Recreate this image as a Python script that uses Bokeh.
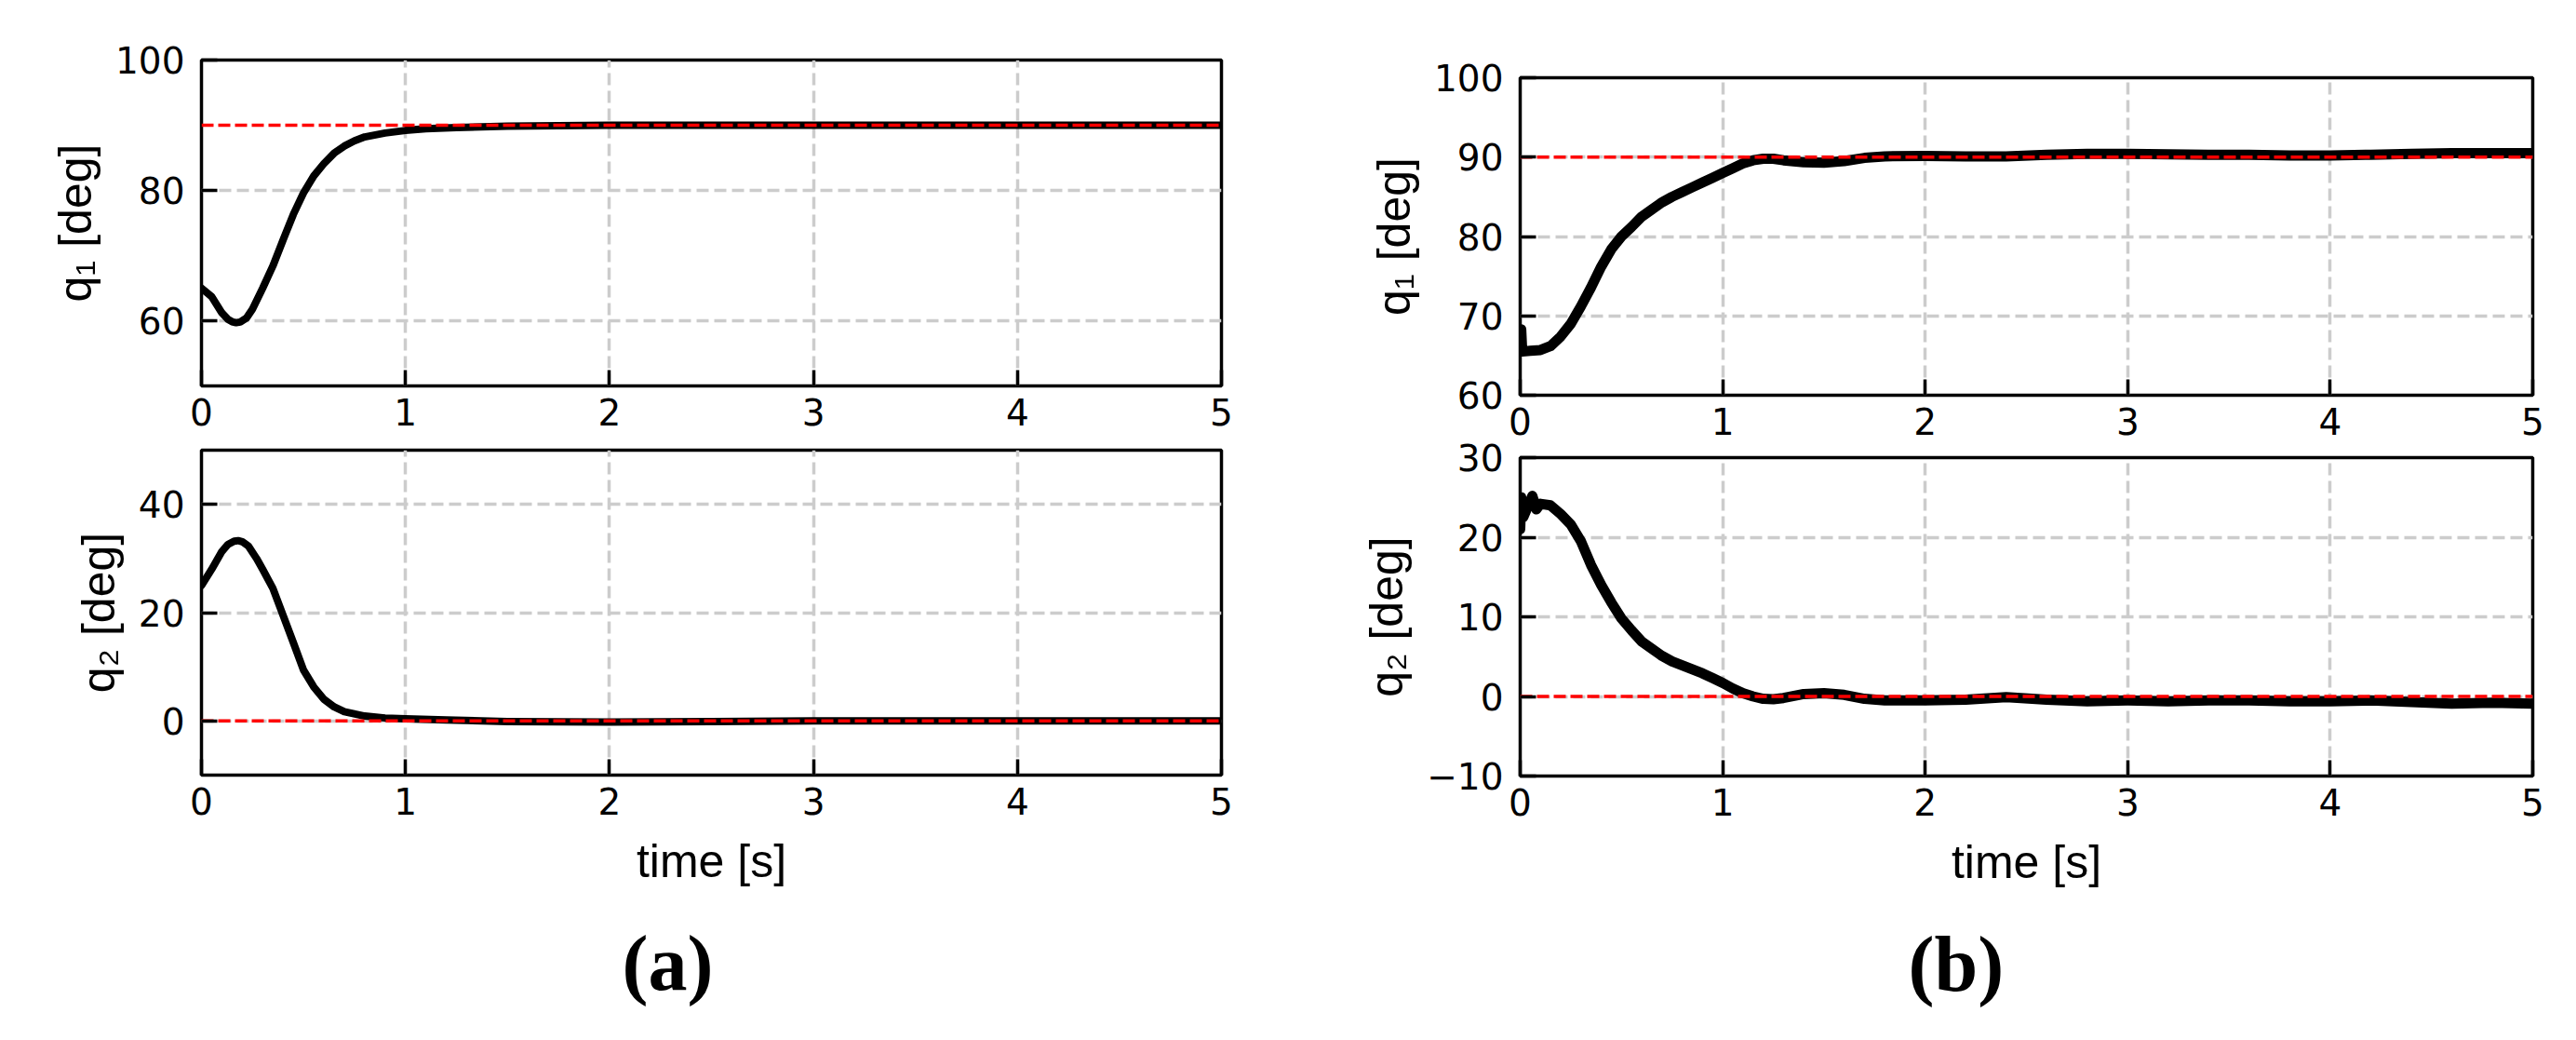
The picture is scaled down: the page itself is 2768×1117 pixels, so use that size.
from bokeh.plotting import figure
from bokeh.models import Range1d, FixedTicker, Title
from bokeh.layouts import row, column
from bokeh.embed import file_html
from bokeh.resources import INLINE

# ---------------- data ----------------
time_ticks = [0, 1, 2, 3, 4, 5]

# (a) simulation, joint 1
a_q1_t = [0.00, 0.05, 0.10, 0.13, 0.15, 0.17, 0.19, 0.22, 0.25, 0.30, 0.35, 0.40, 0.45, 0.50,
          0.55, 0.60, 0.65, 0.70, 0.75, 0.80, 0.90, 1.00, 1.10, 1.25, 1.50, 2.00, 5.00]
a_q1 = [65.0, 63.7, 61.2, 60.2, 59.85, 59.7, 59.8, 60.4, 61.8, 65.0, 68.4, 72.4, 76.3, 79.6,
        82.2, 84.1, 85.7, 86.8, 87.6, 88.2, 88.8, 89.2, 89.45, 89.65, 89.85, 90.0, 90.0]
a_q1_ref = 90.0

# (a) simulation, joint 2
a_q2_t = [0.00, 0.05, 0.10, 0.13, 0.16, 0.18, 0.20, 0.23, 0.27, 0.30, 0.35, 0.40, 0.45, 0.50,
          0.55, 0.60, 0.65, 0.70, 0.80, 0.90, 1.00, 1.20, 1.50, 2.00, 2.50, 3.00, 5.00]
a_q2 = [25.0, 28.0, 31.3, 32.6, 33.2, 33.3, 33.1, 32.3, 30.0, 28.0, 24.5, 19.5, 14.5, 9.4,
        6.3, 4.0, 2.6, 1.7, 0.9, 0.55, 0.4, 0.2, -0.1, -0.2, -0.1, 0.0, 0.0]
a_q2_ref = 0.0

# (b) experiment, joint 1
b_q1_t = [0.000, 0.005, 0.010, 0.05, 0.10, 0.15, 0.20, 0.25, 0.30, 0.35, 0.40, 0.45,
          0.50, 0.55, 0.60, 0.65, 0.70, 0.75, 0.80, 0.85, 0.90, 0.95, 1.00, 1.05,
          1.10, 1.15, 1.20, 1.25, 1.30, 1.40, 1.50, 1.60, 1.70, 1.80, 2.00, 2.20,
          2.40, 2.60, 2.80, 3.00, 3.20, 3.40, 3.60, 3.80, 4.00, 4.20, 4.40, 4.60,
          4.80, 5.00]
b_q1 = [65.8, 68.3, 65.5, 65.6, 65.7, 66.2, 67.4, 69.0, 71.2, 73.6, 76.2, 78.4,
        80.0, 81.2, 82.5, 83.4, 84.3, 85.0, 85.6, 86.2, 86.8, 87.4, 88.0, 88.6,
        89.2, 89.6, 89.8, 89.8, 89.6, 89.35, 89.3, 89.5, 89.9, 90.1, 90.15, 90.1,
        90.1, 90.3, 90.4, 90.4, 90.35, 90.3, 90.3, 90.2, 90.2, 90.3, 90.4, 90.5,
        90.5, 90.5]
b_q1_ref = 90.0

# (b) experiment, joint 2
b_q2_t = [0.000, 0.005, 0.015, 0.04, 0.06, 0.08, 0.10, 0.15, 0.20, 0.25, 0.30, 0.35,
          0.40, 0.45, 0.50, 0.55, 0.60, 0.65, 0.70, 0.75, 0.80, 0.85, 0.90, 0.95,
          1.00, 1.05, 1.10, 1.15, 1.20, 1.25, 1.30, 1.40, 1.50, 1.60, 1.70, 1.80,
          2.00, 2.20, 2.40, 2.60, 2.80, 3.00, 3.20, 3.40, 3.60, 3.80, 4.00, 4.20,
          4.40, 4.60, 4.80, 5.00]
b_q2 = [21.0, 25.0, 22.5, 24.0, 25.2, 23.5, 24.2, 24.0, 22.9, 21.6, 19.5, 16.5,
        14.0, 11.8, 9.8, 8.3, 6.9, 6.0, 5.1, 4.4, 3.9, 3.4, 2.9, 2.3,
        1.7, 1.0, 0.4, 0.0, -0.3, -0.35, -0.2, 0.3, 0.4, 0.2, -0.3, -0.5,
        -0.5, -0.4, -0.1, -0.4, -0.6, -0.5, -0.6, -0.5, -0.5, -0.6, -0.6, -0.5,
        -0.7, -0.9, -0.8, -0.9]
b_q2_ref = 0.0

a_q1_ticks = [60, 80, 100]
a_q2_ticks = [0, 20, 40]
b_q1_ticks = [60, 70, 80, 90, 100]
b_q2_ticks = [-10, 0, 10, 20, 30]

a_q1_range = (50, 100)
a_q2_range = (-10, 50)
b_q1_range = (60, 100)
b_q2_range = (-10, 30)

ylabel_q1 = "q\u2081 [deg]"
ylabel_q2 = "q\u2082 [deg]"
xlabel_time = "time [s]"
caption_a = "(a)"
caption_b = "(b)"

TICK_FONT = "DejaVu Sans"
LABEL_FONT = "Liberation Sans"
SERIF = "Liberation Serif"


def panel(width, height, bl, br, bt, bb, yrange, yticks, t, v, ref, lw, ylabel,
          xlabel=None, caption=None, caption_offset=0, transparent=False):
    p = figure(width=width, height=height, x_range=Range1d(0, 5),
               y_range=Range1d(*yrange), output_backend="svg",
               toolbar_location=None, min_border_left=bl, min_border_right=br,
               min_border_top=bt, min_border_bottom=bb)
    p.background_fill_color = "white"
    p.border_fill_color = None if transparent else "white"
    p.outline_line_color = "black"
    p.outline_line_width = 3.5

    p.xaxis.ticker = FixedTicker(ticks=time_ticks)
    p.yaxis.ticker = FixedTicker(ticks=yticks)
    p.yaxis.major_label_overrides = {k: ("\u2212" + str(abs(k))) for k in yticks if k < 0}
    for ax in (p.xaxis[0], p.yaxis[0]):
        ax.axis_line_color = None
        ax.major_tick_in = 17
        ax.major_tick_out = 0
        ax.major_tick_line_width = 3.5
        ax.major_tick_line_color = "black"
        ax.minor_tick_line_color = None
        ax.major_label_text_font = TICK_FONT
        ax.major_label_text_font_size = "39px"
        ax.major_label_text_color = "black"
        ax.axis_label_text_font = LABEL_FONT
        ax.axis_label_text_font_size = "50px"
        ax.axis_label_text_font_style = "normal"
        ax.axis_label_text_color = "black"
    p.xaxis.major_label_standoff = 13
    p.yaxis.major_label_standoff = 18

    p.yaxis.axis_label = ylabel
    p.yaxis.axis_label_standoff = 12

    for g in (p.xgrid[0], p.ygrid[0]):
        g.grid_line_color = "#cccccc"
        g.grid_line_width = 3.5
        g.grid_line_dash = "13 6"

    p.line(t, v, line_color="black", line_width=lw, line_join="round", line_cap="round")
    p.line([time_ticks[0], time_ticks[-1]], [ref, ref], line_color="#ff0000",
           line_width=3.5, line_dash="13 5")

    if xlabel:
        p.xaxis.axis_label = xlabel
        p.xaxis.axis_label_standoff = 19

    if caption:
        p.add_layout(Title(text=caption, align="left", offset=caption_offset,
                           text_font=SERIF, text_font_size="84px",
                           text_font_style="bold", text_color="black",
                           standoff=60), "below")
    return p


# column (a): frame x 216..1312
a_top = panel(1332, 494, 216, 20, 64, 80, a_q1_range, a_q1_ticks, a_q1_t, a_q1,
              a_q1_ref, 8, ylabel_q1)
a_bot = panel(1332, 638, 216, 20, 9, 280, a_q2_range, a_q2_ticks, a_q2_t, a_q2,
              a_q2_ref, 8, ylabel_q2, xlabel=xlabel_time, caption=caption_a,
              caption_offset=452, transparent=True)
a_bot.styles = {"margin-top": "-20px"}

# column (b): frame x 1633..2721
b_top = panel(1409, 504, 301, 20, 83, 80, b_q1_range, b_q1_ticks, b_q1_t, b_q1,
              b_q1_ref, 11, ylabel_q1)
b_bot = panel(1409, 648, 301, 20, 27, 279, b_q2_range, b_q2_ticks, b_q2_t, b_q2,
              b_q2_ref, 11, ylabel_q2, xlabel=xlabel_time, caption=caption_b,
              caption_offset=417, transparent=True)
b_bot.styles = {"margin-top": "-40px"}

layout = row(column(a_top, a_bot), column(b_top, b_bot))

with open("out.html", "w") as f:
    f.write(file_html(layout, INLINE))
